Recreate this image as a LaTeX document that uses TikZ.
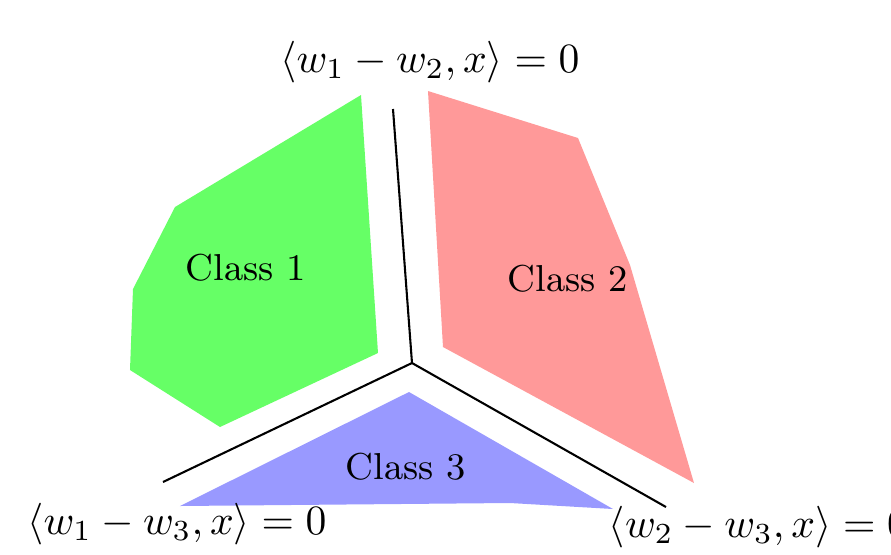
\documentclass[tikz,border=0pt]{standalone}
\usepackage{tikz}
\usetikzlibrary{positioning}

\begin{document}
\begin{tikzpicture}[x=0.24pt,y=-0.24pt]
\useasboundingbox (0,0) rectangle (891,554);
\tikzset{bound/.style={black,line width=0.5pt}, lab/.style={font=\normalsize,inner sep=0pt}, cls/.style={font=\small,inner sep=0pt}}
\fill[green!60] (361,95) -- (378,353) -- (220,427) -- (130,370) -- (133,289) -- (175,207) -- cycle;
\fill[red!40] (428,91) -- (578,138) -- (630,265) -- (694,483) -- (443,347) -- cycle;
\fill[blue!40] (409,392) -- (613,509) -- (510,503) -- (180,506) -- cycle;
\node[cls] (c1) at (246,268) {Class 1};
\node[cls] (c2) at (568,279) {Class 2};
\node[cls] (c3) at (406,467) {Class 3};

\coordinate (O) at (412,363);
\coordinate (T) at (393,109);
\coordinate (L) at (163,482);
\coordinate (R) at (666,507);
\draw[bound] (O) -- (T);
\draw[bound] (O) -- (L);
\draw[bound] (O) -- (R);
\node[lab] (l12) at (430,62) {$\langle w_1-w_2,x\rangle=0$};
\node[lab] (l13) at (177,524) {$\langle w_1-w_3,x\rangle=0$};
\node[lab,anchor=west] (l23) at (608,527) {$\langle w_2-w_3,x\rangle=0$};
\end{tikzpicture}
\end{document}
